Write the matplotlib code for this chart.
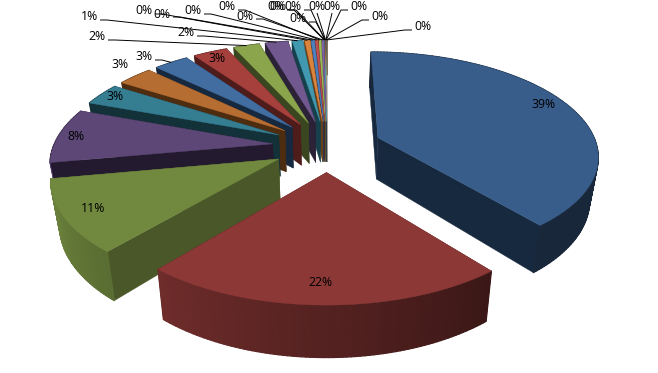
import numpy as np
import matplotlib
matplotlib.use("Agg")
import matplotlib.pyplot as plt
from matplotlib.patches import Polygon
from matplotlib.collections import PolyCollection
from matplotlib.colors import to_rgb

shares = [39.2, 22.0, 11.0, 8.45, 3.45, 3.1, 3.05, 3.02, 2.3, 2.0, 0.93,
          0.45, 0.3, 0.25, 0.2, 0.2, 0.022, 0.022, 0.022, 0.022, 0.022, 0.022, 0.022, 0.022, 0.024]
labels = ["39%", "22%", "11%", "8%", "3%", "3%", "3%", "3%", "2%", "2%", "1%"] + ["0%"] * 14
top_colors = ["#385D8A", "#8C3836", "#71893F", "#5C4776", "#357D91", "#B66D31",
              "#426DA1", "#A5403D", "#8AA54B", "#71588F", "#4198AF", "#DB843D",
              "#4F81BD", "#C0504D", "#9BBB59", "#8064A2", "#4BACC6", "#F79646",
              "#93A9CF", "#D19392", "#B9CD96", "#A99BBD", "#91C3D5", "#F9B074", "#AAAAAA"]
side_colors = ["#17293F", "#4E1C1B", "#4A5829", "#241A30", "#133139", "#4E2C10",
               "#17293F", "#4E1C1B", "#3A4620", "#2C2238", "#15404C", "#6B3F15",
               "#223A57", "#5A2321", "#4A5A28", "#3A2C4C", "#205463", "#7A4718",
               "#4A5A78", "#6B4544", "#5A6846", "#50485E", "#466070", "#7A5530", "#888888"]

# label centres in pixels
label_x = [544, 320, 93, 76, 115, 120, 144, 217, 97, 186, 89,
           144, 162, 193, 227, 245, 276, 278, 293, 298, 317, 332, 359, 380, 423]
label_y = [105, 282, 209, 137, 97, 65, 57, 58, 37, 33, 17,
           11, 14, 11, 7, 16, 7, 7, 7, 19, 7, 7, 7, 17, 27]
has_leader = [False] * 6 + [True, False] + [True] * 17

# projection of the tilted disc
CX, CY = 327.0, 146.0
A, B, P = 219.0, 101.8, 0.16
EXPLODE = 0.25
DEPTH = 42.0
SHRINK = 0.968


def project(x, z):
    w = 1 + P * z
    return CX + A * x / w, CY - B * z / w, w


def top_pt(theta, r, t0):
    x = EXPLODE * np.sin(t0) + r * np.sin(theta)
    z = EXPLODE * np.cos(t0) + r * np.cos(theta)
    return project(x, z)


def bot_from_top(p):
    sx, sy, w = p
    return CX + SHRINK * (sx - CX), sy + DEPTH / w


def shade(theta_deg):
    return float(np.clip(0.41 + 0.38 * (theta_deg - 140) / 80, 0.42, 0.93))


fig = plt.figure(figsize=(6.58, 3.73), dpi=100)
ax = fig.add_axes([0, 0, 1, 1])
ax.set_xlim(0, 658)
ax.set_ylim(373, 0)
ax.axis("off")

vals = np.array(shares, dtype=float)
edges = np.concatenate([[0], np.cumsum(vals) / vals.sum() * 2 * np.pi])
mids = (edges[:-1] + edges[1:]) / 2
order = np.argsort(-np.cos(mids))

anchor_map = {}
for n, i in enumerate(order):
    a0, a1, m = edges[i], edges[i + 1], mids[i]
    thetas = np.linspace(a0, a1, max(3, int(np.degrees(a1 - a0) / 1.0) + 2))
    apex = top_pt(0, 0, m)
    arc = [top_pt(t, 1, m) for t in thetas]
    z0 = 2 + n * 3
    base = np.array(to_rgb(top_colors[i]))
    side = to_rgb(side_colors[i])
    for end in (arc[0], arc[-1]):
        ax.add_patch(Polygon([apex[:2], end[:2], bot_from_top(end), bot_from_top(apex)],
                             closed=True, fc=side, ec=side, lw=0.3, zorder=z0))
    quads, cols = [], []
    for k in range(len(arc) - 1):
        quads.append([arc[k][:2], arc[k + 1][:2], bot_from_top(arc[k + 1]), bot_from_top(arc[k])])
        deg = np.degrees((thetas[k] + thetas[k + 1]) / 2)
        cols.append(side if deg > 262 else tuple(base * shade(deg)))
    ax.add_collection(PolyCollection(quads, facecolors=cols, edgecolors=cols, linewidths=0.9, zorder=z0 + 1))
    ax.add_patch(Polygon([apex[:2]] + [p[:2] for p in arc], closed=True,
                         fc=top_colors[i], ec=top_colors[i], lw=0.3, zorder=z0 + 2))
    anchor_map[i] = top_pt(m, 1, m)

for i, (txt, lx, ly) in enumerate(zip(labels, label_x, label_y)):
    ax.text(lx, ly, txt, ha="center", va="center", fontsize=8.8, family="Open Sans",
            color="black", zorder=200)
    if not has_leader[i]:
        continue
    tx, ty = anchor_map[i][:2]
    if abs(lx - CX) < 15:
        xs, ys = [lx, tx], [ly + 6, ty]
    elif lx < CX:
        xs, ys = [lx + 11, lx + 18, tx], [ly + 3, ly + 3, ty]
    else:
        xs, ys = [lx - 11, lx - 18, tx], [ly + 3, ly + 3, ty]
    ax.plot(xs, ys, color="black", lw=0.7, zorder=150, solid_capstyle="butt")

fig.savefig("out.png", dpi=100, facecolor="white")
